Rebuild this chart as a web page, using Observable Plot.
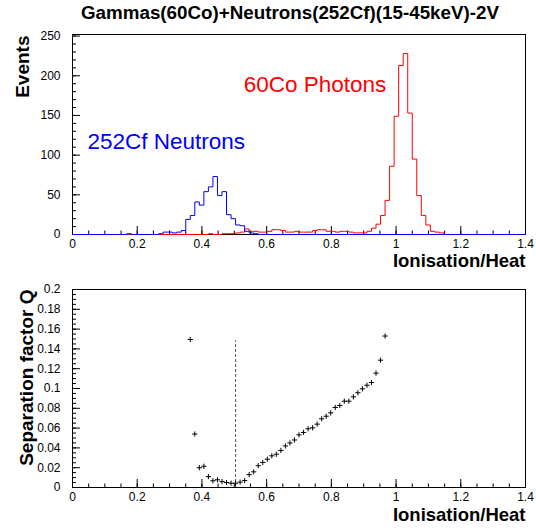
<!DOCTYPE html>
<html><head><meta charset="utf-8">
<script src="https://cdn.jsdelivr.net/npm/d3@7"></script>
<script src="https://cdn.jsdelivr.net/npm/@observablehq/plot@0.6"></script>
<style>
body{margin:0;background:#fff;}
#chart{position:relative;width:536px;height:531px;font-family:"Liberation Sans",Arial,sans-serif;background:#fff;}
#title{position:absolute;left:0;top:2px;width:580px;text-align:center;font-weight:bold;font-size:18.8px;color:#000;white-space:nowrap;}
#top{position:absolute;left:0;top:28px;}
#bottom{position:absolute;left:0;top:272px;}
svg{overflow:visible;}
</style></head>
<body>
<div id="chart">
  <div id="title">Gammas(60Co)+Neutrons(252Cf)(15-45keV)-2V</div>
  <div id="top"></div>
  <div id="bottom"></div>
</div>
<script>
// ---- data ----
const titleText = "Gammas(60Co)+Neutrons(252Cf)(15-45keV)-2V";
const xLabel = "Ionisation/Heat";
const topYLabel = "Events";
const bottomYLabel = "Separation factor Q";
const neutronLabel = "252Cf Neutrons";
const photonLabel = "60Co Photons";

const xMax = 1.4;
const nBins = 100;
const xTicks = [0, 0.2, 0.4, 0.6, 0.8, 1, 1.2, 1.4];
const xMinorStep = 0.05;
const topYTicks = [0, 50, 100, 150, 200, 250];
const topYMinorStep = 10;
const topYMax = 252;
const bottomYTicks = [0, 0.02, 0.04, 0.06, 0.08, 0.1, 0.12, 0.14, 0.16, 0.18, 0.2];
const bottomYMinorStep = 0.005;
const bottomYMax = 0.2;

// neutron (252Cf) histogram counts, 100 bins over [0, 1.4]
const neutronCounts = [
  0,0,0,0,0,0,0,0,0,0,
  0,0,1,0,0,0,0,0,0,1,
  3,3,2,3,5,19,24,41,37,54,
  60,73,49,54,25,20,12,11,4,2,
  1,0,0,0,0,0,0,0,0,0,
  0,0,0,0,0,0,0,0,0,0,
  0,0,0,0,0,0,0,0,0,0,
  0,0,0,0,0,0,0,0,0,0,
  0,0,0,0,0,0,0,0,0,0,
  0,0,0,0,0,0,0,0,0,0
];
// photon (60Co) histogram counts, 100 bins over [0, 1.4]
const photonCounts = [
  0,0,0,0,0,0,0,0,0,0,
  0,0,0,0,0,0,0,0,0,0,
  0,0,0,0,0,0,0,0,0,0,
  1,0,0,1,1,1,2,3,7,4,
  4,3,3,4,6,6,5,3,3,4,
  3,3,3,5,6,6,4,4,3,4,
  4,3,2,2,2,4,8,13,24,43,
  86,149,213,228,153,95,49,24,12,4,
  3,2,0,0,0,0,0,0,0,0,
  0,0,0,0,0,0,0,0,0,0
];

// separation factor Q vs cut position
const qX = [0.364,0.378,0.392,0.406,0.420,0.434,0.448,0.462,0.476,0.490,0.504,0.518,0.532,0.546,0.560,0.574,0.588,0.602,0.616,0.630,0.644,0.658,0.672,0.686,0.700,0.714,0.728,0.742,0.756,0.770,0.784,0.798,0.812,0.826,0.840,0.854,0.868,0.882,0.896,0.910,0.924,0.938,0.952,0.966];
const qY = [0.1495,0.054,0.020,0.0215,0.011,0.0068,0.0078,0.006,0.005,0.0044,0.0043,0.0054,0.007,0.013,0.0158,0.022,0.0253,0.0286,0.032,0.0336,0.0374,0.042,0.045,0.048,0.0532,0.0556,0.0593,0.0603,0.064,0.0694,0.072,0.0754,0.0808,0.0828,0.0872,0.0872,0.0916,0.0957,0.0997,0.1033,0.106,0.1155,0.1286,0.153];
const bestCut = [0.504];
const bestCutTop = 0.148;

// ---- helpers ----
const binWidth = xMax / nBins;
function stepPoints(counts) {
  const pts = counts.map((c, i) => ({x: i * binWidth, y: c}));
  pts.push({x: xMax, y: counts[counts.length - 1]});
  return pts;
}
function rangeTicks(max, step) {
  const n = Math.round(max / step);
  return d3.range(n + 1).map(i => +(i * step).toFixed(6));
}
const font = "Liberation Sans, Arial, sans-serif";
const W = 536, mL = 72, mR = 11;
const plotW = W - mL - mR;
const xPx = px => px * xMax / plotW;
const fmt = d => String(d);

const plusSymbol = {
  draw(context, size) {
    const r = Math.sqrt(size / Math.PI);
    context.moveTo(-r, 0); context.lineTo(r, 0);
    context.moveTo(0, -r); context.lineTo(0, r);
  }
};

function axisMarks(yMax, plotH, yMajor, yMinorStep) {
  const yPx = px => px * yMax / plotH;
  const xMinor = rangeTicks(xMax, xMinorStep);
  const yMinor = rangeTicks(yMajor[yMajor.length - 1], yMinorStep);
  return [
    Plot.ruleX(xMinor, {x: d => d, y1: 0, y2: yPx(3.5), stroke: "black", strokeWidth: 1}),
    Plot.ruleX(xTicks, {x: d => d, y1: 0, y2: yPx(8), stroke: "black", strokeWidth: 1}),
    Plot.ruleY(yMinor, {y: d => d, x1: 0, x2: xPx(4), stroke: "black", strokeWidth: 1}),
    Plot.ruleY(yMajor, {y: d => d, x1: 0, x2: xPx(8), stroke: "black", strokeWidth: 1}),
    Plot.axisX({ticks: xTicks, tickFormat: fmt, tickSize: 0, tickPadding: 5, label: null, fontSize: 12}),
    Plot.axisY({ticks: yMajor, tickFormat: fmt, tickSize: 0, tickPadding: 12, label: null, fontSize: 12})
  ];
}

// ---- top panel ----
const topH = 244, topMT = 6, topMB = 38;
const topPlotH = topH - topMT - topMB;
const topChart = Plot.plot({
  width: W, height: topH,
  marginLeft: mL, marginRight: mR, marginTop: topMT, marginBottom: topMB,
  style: {fontFamily: font, fontSize: "12px", background: "transparent", color: "black", overflow: "visible"},
  x: {domain: [0, xMax]},
  y: {domain: [0, topYMax]},
  marks: [
    Plot.frame({stroke: "black", strokeWidth: 1}),
    ...axisMarks(topYMax, topPlotH, topYTicks, topYMinorStep),
    Plot.line(stepPoints(photonCounts), {x: "x", y: "y", curve: "step-after", stroke: "#ff0000", strokeWidth: 1}),
    Plot.line(stepPoints(neutronCounts), {x: "x", y: "y", curve: "step-after", stroke: "#0000ff", strokeWidth: 1}),
    Plot.text([photonLabel], {text: d => d, x: 0.529, y: 189, textAnchor: "start", fill: "#ff0000", fontSize: 22.5}),
    Plot.text([neutronLabel], {text: d => d, x: 0.046, y: 117, textAnchor: "start", fill: "#0000ff", fontSize: 22.5}),
    Plot.text([xLabel], {text: d => d, frameAnchor: "bottom-right", textAnchor: "end", dy: 32, fontWeight: "bold", fontSize: 18.5}),
    Plot.text([topYLabel], {text: d => d, frameAnchor: "top-left", textAnchor: "end", rotate: -90, dx: -57, dy: 1, fontWeight: "bold", fontSize: 19})
  ]
});
document.getElementById("top").appendChild(topChart);

// ---- bottom panel ----
const botH = 259, botMT = 17, botMB = 44;
const botPlotH = botH - botMT - botMB;
const qData = qX.map((x, i) => ({x, y: qY[i]}));
const bottomChart = Plot.plot({
  width: W, height: botH,
  marginLeft: mL, marginRight: mR, marginTop: botMT, marginBottom: botMB,
  style: {fontFamily: font, fontSize: "12px", background: "transparent", color: "black", overflow: "visible"},
  x: {domain: [0, xMax]},
  y: {domain: [0, bottomYMax]},
  marks: [
    Plot.frame({stroke: "black", strokeWidth: 1}),
    ...axisMarks(bottomYMax, botPlotH, bottomYTicks, bottomYMinorStep),
    Plot.ruleX(bestCut, {x: d => d, y1: 0, y2: bestCutTop, stroke: "#555", strokeWidth: 1, strokeDasharray: "3,2"}),
    Plot.dot(qData, {x: "x", y: "y", symbol: plusSymbol, r: 2.6, fill: "none", stroke: "black", strokeWidth: 1}),
    Plot.text([xLabel], {text: d => d, frameAnchor: "bottom-right", textAnchor: "end", dy: 33, fontWeight: "bold", fontSize: 18.5}),
    Plot.text([bottomYLabel], {text: d => d, frameAnchor: "top-left", textAnchor: "end", rotate: -90, dx: -53, dy: 0, fontWeight: "bold", fontSize: 19})
  ]
});
document.getElementById("bottom").appendChild(bottomChart);
</script>
</body></html>
